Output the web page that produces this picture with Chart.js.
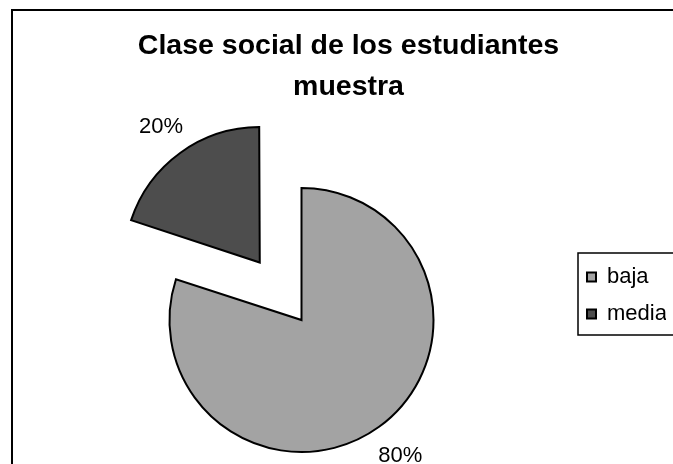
<!DOCTYPE html>
<html>
<head>
<meta charset="utf-8">
<title>Clase social</title>
<script src="https://cdn.jsdelivr.net/npm/chart.js@4"></script>
<style>
    body { margin:0; background:#fff; }
    #wrap { width:673px; height:464px; position:relative; overflow:hidden; }
</style>
</head>
<body>
<div id="wrap"><canvas id="chart" width="673" height="464"></canvas></div>
<script>
// datos de la muestra
const categories = ['baja', 'media'];
const shares = [80, 20];
const chartTitle = ['Clase social de los estudiantes', 'muestra'];

Chart.defaults.font.family = '"Liberation Sans", Arial, sans-serif';
Chart.defaults.color = '#000';

// marco exterior del grafico y recuadro de la leyenda
const framePlugin = {
    id: 'frame',
    afterDraw(chart) {
        const ctx = chart.ctx;
        ctx.save();
        ctx.strokeStyle = '#000';
        ctx.lineWidth = 2;
        ctx.strokeRect(12, 10, 720, 520);
        const lg = chart.legend;
        const top = chart.chartArea.top;
        ctx.lineWidth = 1.5;
        ctx.strokeRect(lg.left + 6, top + 2, 120, 82);
        ctx.restore();
    }
};

// etiquetas de porcentaje fuera de cada sector
const pctLabels = {
    id: 'pctLabels',
    afterDatasetsDraw(chart) {
        const ctx = chart.ctx;
        const meta = chart.getDatasetMeta(0);
        ctx.save();
        ctx.font = '22px "Liberation Sans", Arial, sans-serif';
        ctx.fillStyle = '#000';
        ctx.textAlign = 'center';
        ctx.textBaseline = 'middle';
        meta.data.forEach(function(arc, i) {
            const mid = (arc.startAngle + arc.endAngle) / 2;
            const dist = (arc.options.offset || 0) / 4 + arc.outerRadius + 36;
            const x = arc.x + Math.cos(mid) * dist;
            const y = arc.y + Math.sin(mid) * dist;
            ctx.fillText(shares[i] + '%', x, y);
        });
        ctx.restore();
    }
};

new Chart(document.getElementById('chart'), {
    type: 'pie',
    data: {
        labels: categories,
        datasets: [{
            data: shares,
            backgroundColor: ['#a3a3a3', '#4d4d4d'],
            borderColor: '#000',
            borderWidth: 2,
            borderJoinStyle: 'miter',
            offset: [0, 284],
            clip: false
        }]
    },
    options: {
        responsive: false,
        devicePixelRatio: 1,
        animation: false,
        radius: 132,
        cutout: '0%',
        layout: { padding: { left: 31, right: 7, top: 0, bottom: 75 } },
        plugins: {
            title: {
                display: true,
                text: chartTitle,
                font: { size: 28.5, weight: 'bold', lineHeight: '41px' },
                padding: { top: 26, bottom: 143 }
            },
            legend: {
                position: 'right',
                align: 'start',
                fullSize: false,
                maxWidth: 94,
                labels: {
                    boxWidth: 9,
                    boxHeight: 9,
                    padding: 15,
                    font: { size: 22 }
                }
            },
            tooltip: { enabled: false }
        }
    },
    plugins: [pctLabels, framePlugin]
});
</script>
</body>
</html>
